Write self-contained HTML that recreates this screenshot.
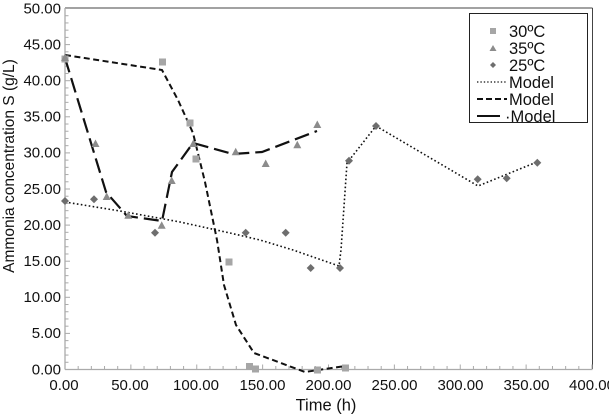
<!DOCTYPE html>
<html><head><meta charset="utf-8"><style>
html,body{margin:0;padding:0;background:#fff;}
svg{display:block;}
text{font-family:"Liberation Sans",Arial,sans-serif;fill:#111;}
</style></head><body>
<svg width="609" height="419" viewBox="0 0 609 419" xmlns="http://www.w3.org/2000/svg">
<rect width="609" height="419" fill="#fff"/>
<!-- frame -->
<line x1="65" y1="8" x2="592.5" y2="8" stroke="#444" stroke-width="1"/>
<line x1="592.5" y1="8" x2="592.5" y2="369" stroke="#444" stroke-width="1"/>
<line x1="65" y1="8" x2="65" y2="369.5" stroke="#aaa" stroke-width="1.3"/>
<line x1="65" y1="369.5" x2="592.5" y2="369.5" stroke="#aaa" stroke-width="1.3"/>
<g id="yticks" stroke="#aaa" stroke-width="1"></g>
<g id="xticks" stroke="#aaa" stroke-width="1"></g>
<!-- y labels -->
<g font-size="15" text-anchor="end">
<text x="61" y="13.3">50.00</text>
<text x="61" y="49.4">45.00</text>
<text x="61" y="85.5">40.00</text>
<text x="61" y="121.6">35.00</text>
<text x="61" y="157.7">30.00</text>
<text x="61" y="193.8">25.00</text>
<text x="61" y="229.9">20.00</text>
<text x="61" y="266">15.00</text>
<text x="61" y="302.1">10.00</text>
<text x="61" y="338.2">5.00</text>
<text x="61" y="374.3">0.00</text>
</g>
<g font-size="15" text-anchor="middle">
<text x="64" y="390">0.00</text>
<text x="130" y="390">50.00</text>
<text x="196" y="390">100.00</text>
<text x="262.5" y="390">150.00</text>
<text x="328.5" y="390">200.00</text>
<text x="394.5" y="390">250.00</text>
<text x="460.5" y="390">300.00</text>
<text x="526.5" y="390">350.00</text>
<text x="592" y="390">400.00</text>
</g>
<text x="326" y="410.5" font-size="16.5" text-anchor="middle">Time (h)</text>
<text transform="translate(14,166) rotate(-90)" font-size="15.5" text-anchor="middle">Ammonia concentration S (g/L)</text>

<!-- Models -->
<polyline fill="none" stroke="#111" stroke-width="1.6" stroke-dasharray="1.6,2.4" points="65,202 120,211 180,222 230,233 260,240 293,250 339,266 341,250 347,163 376,126 478,186 537,162"/>
<polyline fill="none" stroke="#111" stroke-width="2" stroke-dasharray="6,3.5" points="65,55 162,70 178,100 193,133 205,182 217,240 224,285 236,325 254,353 305,372 345,366"/>
<polyline fill="none" stroke="#111" stroke-width="2.2" stroke-dasharray="15,6" points="65,58 106,192 127,216 162,221 172,172 193,143 233,154 262,152 317,131"/>

<!-- 30C squares -->
<g fill="#a6a6a6">
<rect x="61.5" y="55.5" width="7" height="7"/>
<rect x="159" y="58.5" width="7" height="7"/>
<rect x="186.5" y="119.5" width="7" height="7"/>
<rect x="192.5" y="155.5" width="7" height="7"/>
<rect x="225.5" y="258.5" width="7" height="7"/>
<rect x="246" y="363" width="7" height="7"/>
<rect x="252" y="365.5" width="7" height="7"/>
<rect x="314" y="366.5" width="7" height="7"/>
<rect x="342" y="364.5" width="7" height="7"/>
</g>
<!-- 35C triangles -->
<g fill="#8c8c8c" id="tri"></g>
<!-- 25C diamonds -->
<g fill="#6e6e6e" id="dia"></g>

<!-- legend -->
<rect x="469.5" y="13.5" width="118" height="109" fill="#fff" stroke="#222" stroke-width="1"/>
<rect x="490" y="28" width="6" height="6" fill="#a6a6a6"/>
<polygon points="493,45 489.5,51 496.5,51" fill="#8c8c8c"/>
<polygon points="493,62 496,65 493,68 490,65" fill="#6e6e6e"/>
<line x1="477" y1="82" x2="507" y2="82" stroke="#111" stroke-width="1.3" stroke-dasharray="1.4,2"/>
<line x1="477" y1="99" x2="507" y2="99" stroke="#111" stroke-width="2" stroke-dasharray="6,3"/>
<line x1="477" y1="116" x2="500" y2="116" stroke="#111" stroke-width="2"/>
<g font-size="16.5">
<text x="509" y="37">30ºC</text>
<text x="509" y="54">35ºC</text>
<text x="509" y="71">25ºC</text>
<text x="509" y="88">Model</text>
<text x="509" y="105">Model</text>
<text x="505" y="122">·Model</text>
</g>
</svg>
<script>
(function(){
var ns="http://www.w3.org/2000/svg";
var yt=document.getElementById("yticks");
for(var i=0;i<=50;i++){var y=369.5-i*7.22;var l=document.createElementNS(ns,"line");
l.setAttribute("x1",65);l.setAttribute("x2",i%5==0?70:68.5);l.setAttribute("y1",y);l.setAttribute("y2",y);yt.appendChild(l);}
var xt=document.getElementById("xticks");
for(var i=0;i<=40;i++){var x=65+i*13.175;var l=document.createElementNS(ns,"line");
l.setAttribute("x1",x);l.setAttribute("x2",x);l.setAttribute("y1",369.5);l.setAttribute("y2",i%5==0?364.5:366);xt.appendChild(l);}
var tri=[[65,58],[95.5,144],[106.7,197],[128.3,215.7],[161.7,225.7],[171.7,181],[193.3,144],[235.7,152.3],[265.7,164],[297.3,145.3],[317.3,125]];
var g=document.getElementById("tri");
tri.forEach(function(p){var t=document.createElementNS(ns,"polygon");
t.setAttribute("points",(p[0])+","+(p[1]-4.5)+" "+(p[0]-4)+","+(p[1]+3)+" "+(p[0]+4)+","+(p[1]+3));g.appendChild(t);});
var dia=[[65,201],[94,199.3],[155,232.7],[245.7,232.7],[285.7,232.7],[310.7,268],[340,268],[349,160.7],[376,126],[477.7,179.3],[506.7,178.3],[537.3,162.7]];
var d=document.getElementById("dia");
dia.forEach(function(p){var t=document.createElementNS(ns,"polygon");
t.setAttribute("points",p[0]+","+(p[1]-4)+" "+(p[0]+4)+","+p[1]+" "+p[0]+","+(p[1]+4)+" "+(p[0]-4)+","+p[1]);d.appendChild(t);});
})();
</script>
</body></html>
